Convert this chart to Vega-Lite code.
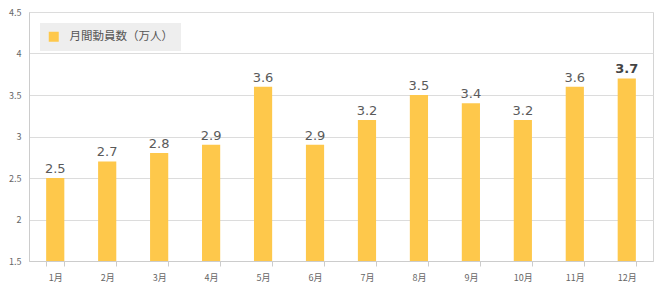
{
  "$schema": "https://vega.github.io/schema/vega-lite/v6.json",
  "autosize": {"type": "none"},
  "width": 624,
  "height": 249,
  "padding": {"left": 29, "top": 12, "right": 7, "bottom": 32},
  "background": "#ffffff",
  "config": {
    "font": "Noto Sans CJK JP",
    "view": {"stroke": "#d4d4d4", "strokeWidth": 1},
    "axis": {"gridColor": "#dcdcdc", "domainColor": "#cccccc", "tickColor": "#cccccc", "labelColor": "#666666", "labelFontSize": 9}
  },
  "data": {
    "values": [
      {"month": "1月", "value": 2.5, "series": "月間動員数（万人）"},
      {"month": "2月", "value": 2.7, "series": "月間動員数（万人）"},
      {"month": "3月", "value": 2.8, "series": "月間動員数（万人）"},
      {"month": "4月", "value": 2.9, "series": "月間動員数（万人）"},
      {"month": "5月", "value": 3.6, "series": "月間動員数（万人）"},
      {"month": "6月", "value": 2.9, "series": "月間動員数（万人）"},
      {"month": "7月", "value": 3.2, "series": "月間動員数（万人）"},
      {"month": "8月", "value": 3.5, "series": "月間動員数（万人）"},
      {"month": "9月", "value": 3.4, "series": "月間動員数（万人）"},
      {"month": "10月", "value": 3.2, "series": "月間動員数（万人）"},
      {"month": "11月", "value": 3.6, "series": "月間動員数（万人）"},
      {"month": "12月", "value": 3.7, "series": "月間動員数（万人）"}
    ]
  },
  "encoding": {
    "x": {
      "field": "month", "type": "ordinal", "sort": null, "title": null,
      "scale": {"paddingInner": 0.65, "paddingOuter": 0.33},
      "axis": {"labelAngle": 0, "tickBand": "extent", "tickSize": 5, "labelPadding": 7, "domainColor": "#cccccc"}
    },
    "y": {
      "field": "value", "type": "quantitative", "title": null,
      "scale": {"domain": [1.5, 4.5], "nice": false, "zero": false},
      "axis": {"values": [1.5, 2, 2.5, 3, 3.5, 4, 4.5], "ticks": false, "labelPadding": 8, "domain": true, "format": "~g"}
    }
  },
  "layer": [
    {
      "mark": {"type": "bar", "clip": true},
      "encoding": {
        "color": {
          "field": "series", "type": "nominal",
          "scale": {"range": ["#fec84b"]},
          "legend": {
            "title": null, "orient": "top-left", "offset": 11,
            "fillColor": "#eeeeee", "padding": 8,
            "symbolType": "square", "symbolSize": 100, "symbolStrokeWidth": 0,
            "labelFontSize": 11.5, "labelColor": "#555555", "labelOffset": 10
          }
        }
      }
    },
    {
      "transform": [{"filter": "datum.month != '12月'"}],
      "mark": {"type": "text", "dy": -9, "fontSize": 13, "color": "#5a5a5a", "font": "DejaVu Sans"},
      "encoding": {"text": {"field": "value", "type": "quantitative", "format": ".1f"}}
    },
    {
      "transform": [{"filter": "datum.month == '12月'"}],
      "mark": {"type": "text", "dy": -9, "fontSize": 13, "fontWeight": "bold", "color": "#444444", "font": "DejaVu Sans"},
      "encoding": {"text": {"field": "value", "type": "quantitative", "format": ".1f"}}
    }
  ]
}
